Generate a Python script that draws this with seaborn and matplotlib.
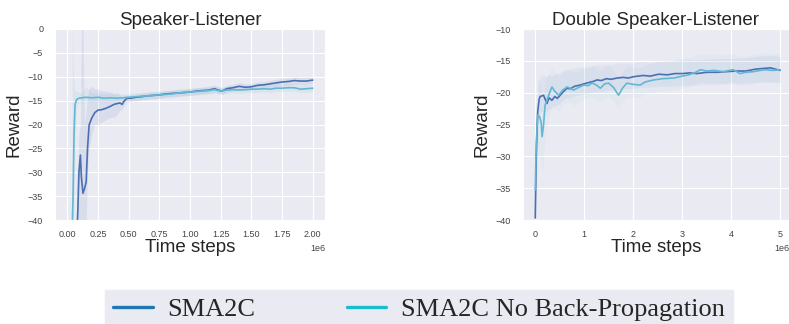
import matplotlib
matplotlib.use("Agg")
import matplotlib.pyplot as plt
import seaborn as sns
from matplotlib.lines import Line2D

# ---- Speaker-Listener (x in units of 1e6 steps) ----
sl_sma2c_x = [0.080, 0.086, 0.095, 0.107, 0.115, 0.128, 0.140, 0.154, 0.165, 0.178,
              0.20, 0.225, 0.25, 0.28, 0.316, 0.35, 0.38, 0.408, 0.43, 0.447,
              0.46, 0.486, 0.52, 0.56, 0.60, 0.65, 0.70, 0.75, 0.80, 0.85,
              0.90, 0.95, 1.00, 1.05, 1.10, 1.15, 1.20, 1.23, 1.26, 1.30,
              1.35, 1.40, 1.45, 1.50, 1.55, 1.60, 1.65, 1.70, 1.75, 1.80,
              1.85, 1.90, 1.95, 2.00]
sl_sma2c_y = [-42, -38, -30, -26.4, -31, -34.4, -33.5, -32.0, -25, -20.1,
              -18.6, -17.5, -17.0, -16.9, -16.6, -16.2, -15.8, -15.6, -15.5, -15.8,
              -15.2, -14.5, -14.5, -14.3, -14.2, -14.0, -13.9, -13.8, -13.6, -13.5,
              -13.4, -13.3, -13.2, -13.0, -12.9, -12.8, -12.5, -12.8, -13.0, -12.5,
              -12.3, -12.0, -12.2, -12.1, -11.8, -11.7, -11.5, -11.3, -11.1, -11.0,
              -10.8, -10.9, -10.9, -10.7]
sl_sma2c_lo = [-45, -45, -45, -40, -45, -45, -42, -40, -30, -25,
               -22, -20, -20, -19.5, -19, -18.5, -18.5, -18, -17, -17,
               -16, -15.2, -15.2, -15.0, -14.9, -14.7, -14.6, -14.5, -14.3, -14.2,
               -14.1, -14.0, -13.9, -13.8, -13.6, -13.5, -13.2, -13.5, -13.7, -13.2,
               -13.0, -12.8, -12.9, -12.8, -12.5, -12.4, -12.2, -12.0, -11.9, -11.8,
               -11.6, -11.7, -11.7, -11.4]
sl_sma2c_hi = [-30, -28, -22, -20, 0, 0, -20, -17, -14, -12.5,
               -12, -12.5, -12.5, -13, -13, -13.2, -13.5, -13.3, -13.8, -14.2,
               -14.2, -13.8, -13.8, -13.6, -13.5, -13.3, -13.2, -13.1, -12.9, -12.8,
               -12.7, -12.6, -12.5, -12.3, -12.2, -12.1, -11.8, -12.1, -12.3, -11.8,
               -11.6, -11.2, -11.5, -11.4, -11.1, -11.0, -10.8, -10.6, -10.3, -10.2,
               -10.0, -10.1, -10.1, -10.0]

sl_nobp_x = [0.040, 0.047, 0.055, 0.063, 0.075, 0.094, 0.12, 0.15, 0.20, 0.25,
             0.30, 0.35, 0.40, 0.45, 0.50, 0.55, 0.60, 0.65, 0.70, 0.75,
             0.80, 0.85, 0.90, 0.95, 1.00, 1.05, 1.10, 1.15, 1.20, 1.25,
             1.30, 1.35, 1.40, 1.45, 1.50, 1.55, 1.60, 1.65, 1.70, 1.75,
             1.80, 1.85, 1.90, 1.95, 2.00]
sl_nobp_y = [-42, -35, -22, -15.9, -14.8, -14.5, -14.4, -14.3, -14.4, -14.3,
             -14.5, -14.4, -14.5, -14.4, -14.3, -14.2, -14.1, -14.0, -13.9, -13.8,
             -13.7, -13.6, -13.4, -13.3, -13.2, -13.1, -13.0, -12.9, -12.7, -13.0,
             -12.8, -12.7, -12.8, -12.7, -12.6, -12.6, -12.5, -12.6, -12.4, -12.4,
             -12.3, -12.3, -12.6, -12.5, -12.4]
sl_nobp_lo = [-45, -45, -40, -25, -16, -15.5, -15.3, -15.2, -15.3, -15.2,
              -15.3, -15.2, -15.2, -15.1, -15.0, -14.9, -14.8, -14.7, -14.6, -14.5,
              -14.4, -14.3, -14.1, -14.0, -13.9, -13.8, -13.7, -13.6, -13.4, -13.7,
              -13.5, -13.4, -13.5, -13.4, -13.3, -13.3, -13.2, -13.3, -13.1, -13.1,
              -13.0, -13.0, -13.3, -13.2, -13.1]
sl_nobp_hi = [0, -5, -12, -13, -13.0, -13.2, -13.4, -12, -13.3, -13.4,
              -13.6, -13.5, -13.7, -13.6, -13.5, -13.4, -13.3, -13.2, -13.1, -13.0,
              -12.9, -12.8, -12.6, -12.5, -12.4, -12.3, -12.2, -12.1, -11.9, -12.2,
              -12.0, -11.9, -12.0, -11.9, -11.8, -11.8, -11.7, -11.8, -11.6, -11.6,
              -11.4, -11.4, -11.8, -11.7, -11.6]

# ---- Double Speaker-Listener (x in units of 1e6 steps) ----
dsl_sma2c_x = [0.0, 0.02, 0.05, 0.08, 0.10, 0.14, 0.17, 0.20, 0.24, 0.28,
               0.34, 0.40, 0.45, 0.51, 0.58, 0.65, 0.72, 0.80, 0.92, 1.0,
               1.1, 1.2, 1.26, 1.35, 1.45, 1.55, 1.67, 1.8, 1.9, 2.0,
               2.1, 2.2, 2.35, 2.52, 2.7, 2.85, 3.0, 3.15, 3.3, 3.5,
               3.7, 3.9, 4.1, 4.3, 4.5, 4.65, 4.8, 4.9, 5.0]
dsl_sma2c_y = [-39.7, -30, -23, -21.0, -20.6, -20.5, -20.4, -21.0, -21.7, -20.8,
               -21.2, -20.6, -20.9, -20.4, -19.8, -19.3, -19.4, -19.0, -18.8, -18.6,
               -18.4, -18.2, -18.0, -18.1, -17.8, -17.9, -17.7, -17.6, -17.7, -17.5,
               -17.4, -17.3, -17.4, -17.1, -17.2, -17.0, -17.0, -16.9, -17.0, -16.8,
               -16.8, -16.7, -16.6, -16.6, -16.3, -16.2, -16.1, -16.3, -16.5]
dsl_sma2c_lo = [-42, -36, -28, -24, -23, -23, -22.8, -23, -23, -22.5,
                -22.5, -22, -22, -21.5, -21, -20.8, -20.8, -20.5, -20.3, -20.2,
                -20.0, -19.9, -19.8, -19.8, -19.6, -19.6, -19.5, -19.4, -19.4, -19.3,
                -19.2, -19.1, -19.1, -19.0, -19.0, -18.9, -18.9, -18.8, -18.8, -18.7,
                -18.7, -18.6, -18.6, -18.5, -18.4, -18.3, -18.3, -18.4, -18.5]
dsl_sma2c_hi = [-36, -25, -19, -18, -17.5, -17.3, -17.2, -17.4, -17.5, -17.2,
                -17.4, -17.0, -17.0, -16.8, -16.5, -16.3, -16.3, -16.1, -16.0, -15.9,
                -15.8, -15.7, -15.6, -15.6, -15.5, -15.5, -15.4, -15.3, -15.4, -15.3,
                -15.2, -15.1, -15.2, -15.0, -15.0, -14.9, -14.9, -14.8, -14.9, -14.7,
                -14.7, -14.6, -14.6, -14.5, -14.3, -14.2, -14.1, -14.2, -14.4]

dsl_nobp_x = [0.0, 0.02, 0.05, 0.09, 0.12, 0.14, 0.17, 0.20, 0.27, 0.34,
              0.40, 0.48, 0.56, 0.65, 0.72, 0.78, 0.88, 0.99, 1.08, 1.16,
              1.25, 1.33, 1.42, 1.5, 1.6, 1.70, 1.78, 1.87, 2.0, 2.14,
              2.25, 2.42, 2.6, 2.83, 3.0, 3.13, 3.25, 3.37, 3.5, 3.65,
              3.84, 4.04, 4.18, 4.3, 4.45, 4.6, 4.69, 4.85, 5.0]
dsl_nobp_y = [-35.3, -28, -23.5, -23.8, -24.6, -26.9, -25, -22.0, -20.5, -19.1,
              -19.8, -20.4, -19.6, -19.1, -19.3, -19.6, -19.2, -18.8, -18.9, -18.5,
              -18.8, -19.3, -18.6, -18.5, -19.2, -20.4, -19.3, -18.5, -18.7, -18.8,
              -18.3, -18.0, -17.8, -17.7, -17.4, -17.2, -16.9, -16.4, -16.6, -16.5,
              -16.7, -16.4, -17.0, -16.8, -16.7, -16.5, -16.4, -16.5, -16.4]
dsl_nobp_lo = [-38, -33, -30, -30, -31, -33, -30, -27, -24, -22,
               -22.5, -23, -22, -21.5, -21.5, -22, -21.5, -21, -21, -20.6,
               -21, -21.5, -20.8, -20.6, -21.3, -22.5, -21.3, -20.6, -20.7, -20.7,
               -20.2, -20.0, -19.7, -19.6, -19.3, -19.1, -18.8, -18.3, -18.5, -18.4,
               -18.6, -18.3, -18.9, -18.7, -18.6, -18.4, -18.3, -18.4, -18.3]
dsl_nobp_hi = [-32, -22, -18, -18, -19, -21, -20, -18, -17, -16,
               -16.8, -17.5, -16.8, -16.3, -16.5, -16.8, -16.5, -16.1, -16.2, -15.8,
               -16.1, -16.6, -15.9, -15.8, -16.5, -17.8, -16.6, -15.8, -16.0, -16.1,
               -15.6, -15.3, -15.1, -15.0, -14.7, -14.5, -14.2, -13.8, -14.0, -13.9,
               -14.1, -13.8, -14.4, -14.2, -14.1, -13.9, -13.8, -13.9, -13.8]

line_colors = ["#4a6fb3", "#62b8d2"]
legend_colors = ["#1f77b4", "#17becf"]
legend_labels = ["SMA2C", "SMA2C No Back-Propagation"]

sns.set_style("darkgrid")
plt.rcParams["font.family"] = ["Liberation Sans", "DejaVu Sans"]

fig = plt.figure(figsize=(7.89, 3.24), dpi=100)
ax1 = fig.add_axes([55 / 789, 104 / 324, 270 / 789, 191 / 324])
ax2 = fig.add_axes([523 / 789, 104 / 324, 266 / 789, 191 / 324])

panels = [
    (ax1, "Speaker-Listener",
     [(sl_sma2c_x, sl_sma2c_y, sl_sma2c_lo, sl_sma2c_hi),
      (sl_nobp_x, sl_nobp_y, sl_nobp_lo, sl_nobp_hi)],
     (-0.1, 2.1), (-40, 0), 0.11),
    (ax2, "Double Speaker-Listener",
     [(dsl_sma2c_x, dsl_sma2c_y, dsl_sma2c_lo, dsl_sma2c_hi),
      (dsl_nobp_x, dsl_nobp_y, dsl_nobp_lo, dsl_nobp_hi)],
     (-0.25, 5.18), (-40, -10), 0.06),
]

for ax, title, series, xlim, ylim, band_alpha in panels:
    for (x, y, lo, hi), c in zip(series, line_colors):
        ax.fill_between([v * 1e6 for v in x], lo, hi, color=c,
                        alpha=band_alpha, lw=0)
        sns.lineplot(x=[v * 1e6 for v in x], y=y, ax=ax, color=c, lw=1.2,
                     sort=False)
    ax.set_xlim(xlim[0] * 1e6, xlim[1] * 1e6)
    ax.set_ylim(*ylim)
    ax.set_title(title, fontsize=13.5, pad=3)
    ax.set_xlabel("Time steps", fontsize=13.5, labelpad=0)
    ax.set_ylabel("Reward", fontsize=13.5, labelpad=4)
    ax.tick_params(axis="both", labelsize=6.5, colors="#444444")
    ax.tick_params(axis="x", pad=4)
    ax.tick_params(axis="y", pad=5)
    ax.ticklabel_format(axis="x", style="sci", scilimits=(6, 6))
    ax.xaxis.get_offset_text().set_fontsize(6.5)
    ax.xaxis.get_offset_text().set_color("#444444")

ax1.set_yticks(range(-40, 1, 5))
ax1.set_xticks([i * 0.25e6 for i in range(9)])
ax2.set_yticks(range(-40, -9, 5))
ax2.set_xticks([i * 1e6 for i in range(6)])

handles = [Line2D([0], [0], color=c, lw=2.4) for c in legend_colors]
leg = fig.legend(handles, legend_labels, loc="upper center", ncol=2,
                 bbox_to_anchor=(419 / 789, 1 - 290 / 324),
                 prop={"family": "Liberation Serif", "size": 19},
                 frameon=True, fancybox=False, facecolor="#EAEAF2",
                 edgecolor="#EAEAF2", framealpha=1, handlelength=1.5,
                 handletextpad=0.57, columnspacing=3.45, borderpad=0.3,
                 borderaxespad=0)

fig.savefig("out.png", dpi=100)
